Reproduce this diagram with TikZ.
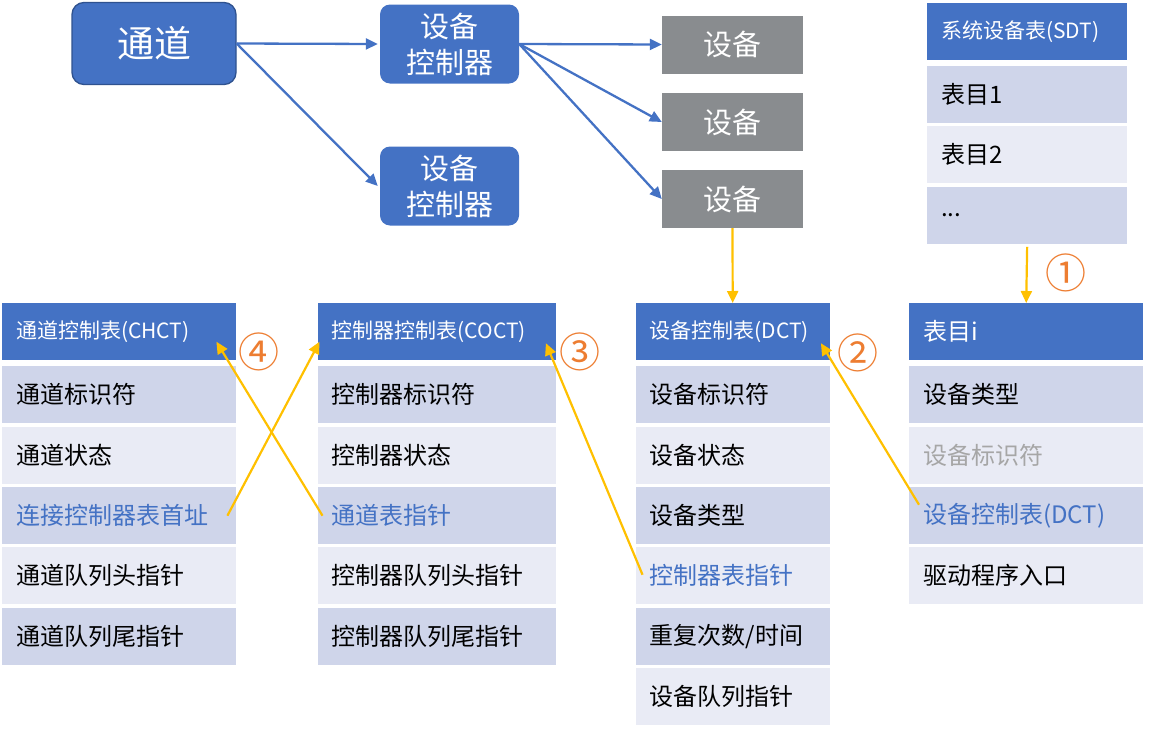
\documentclass[tikz,border=0pt]{standalone}
\usepackage{fontspec}
\setmainfont{Noto Sans CJK SC}
\usetikzlibrary{arrows.meta}
\definecolor{hdr}{HTML}{4472C4}
\definecolor{rowA}{HTML}{CFD5EA}
\definecolor{rowB}{HTML}{E9EBF5}
\definecolor{bord}{HTML}{2F528F}
\definecolor{devg}{HTML}{898C8F}
\definecolor{ylw}{HTML}{FFC000}
\definecolor{org}{HTML}{ED7D31}
\definecolor{gtxt}{HTML}{A6A6A6}
\begin{document}
\begin{tikzpicture}[x=1pt,y=-1pt,
  cell/.style={rectangle, anchor=north west, inner xsep=14pt, inner ysep=0pt,
    minimum height=57pt, align=left, text=black, font=\fontsize{24}{28}\selectfont},
  hcell/.style={cell, fill=hdr, text=white, font=\fontsize{21}{25}\selectfont},
  ra/.style={cell, fill=rowA},
  rb/.style={cell, fill=rowB},
  wA/.style={text width=206pt},
  wB/.style={text width=210pt},
  wC/.style={text width=166pt},
  wD/.style={text width=172pt},
  chan/.style={rectangle, rounded corners=12pt, fill=hdr, draw=bord, line width=1.3pt,
    minimum width=164pt, minimum height=82pt, text=white, font=\fontsize{37}{40}\selectfont},
  ctrl/.style={rectangle, rounded corners=10pt, fill=hdr, minimum width=139pt,
    minimum height=79pt, text=white, align=center, inner sep=0pt,
    font=\fontsize{29}{36}\selectfont},
  dev/.style={rectangle, fill=devg, minimum width=141pt, minimum height=58pt,
    text=white, font=\fontsize{29}{32}\selectfont},
  barrow/.style={draw=hdr, line width=2.3pt, -{Triangle[length=12pt,width=11pt]}},
  yarrow/.style={draw=ylw, line width=2.2pt, -{Triangle[length=12pt,width=11pt]}},
  circ/.style={text=org, inner sep=0pt, font=\fontsize{41}{43}\selectfont},
]
\useasboundingbox (0,0) rectangle (1149,731);

% top part
\node[chan] (ch) at (154,43.5) {通道};
\node[ctrl] (c1) at (449.5,44) {设备\\控制器};
\node[ctrl] (c2) at (449.5,186) {设备\\控制器};
\node[dev] (d1) at (732.5,44.5) {设备};
\node[dev] (d2) at (732.5,122) {设备};
\node[dev] (d3) at (732.5,199) {设备};

\draw[barrow] (ch.east) -- ([xshift=-2pt]c1.west);
\draw[barrow] (ch.east) -- ([xshift=-2pt]c2.west);
\draw[barrow] (c1.east) -- (d1.west);
\draw[barrow] (c1.east) -- (d2.west);
\draw[barrow] (c1.east) -- (d3.west);

% SDT
\node[hcell, wD] (sdt) at (927,3) {系统设备表(SDT)};
\node[ra, wD] (s1) at (927,66) {表目1};
\node[rb, wD] (s2) at (927,126) {表目2};
\node[ra, wD] (s3) at (927,186.5) {...};

% CHCT
\node[hcell, wA] (chct) at (2,303) {通道控制表(CHCT)};
\node[ra, wA] (h1) at (2,366) {通道标识符};
\node[rb, wA] (h2) at (2,426.5) {通道状态};
\node[ra, wA, text=hdr] (h3) at (2,487) {连接控制器表首址};
\node[rb, wA] (h4) at (2,547) {通道队列头指针};
\node[ra, wA] (h5) at (2,607.5) {通道队列尾指针};

% COCT
\node[hcell, wB] (coct) at (317.5,303) {控制器控制表(COCT)};
\node[ra, wB] (o1) at (317.5,366) {控制器标识符};
\node[rb, wB] (o2) at (317.5,426.5) {控制器状态};
\node[ra, wB, text=hdr] (o3) at (317.5,487) {通道表指针};
\node[rb, wB] (o4) at (317.5,547) {控制器队列头指针};
\node[ra, wB] (o5) at (317.5,607.5) {控制器队列尾指针};

% DCT
\node[hcell, wC] (dct) at (635.5,303) {设备控制表(DCT)};
\node[ra, wC] (t1) at (635.5,366) {设备标识符};
\node[rb, wC] (t2) at (635.5,426.5) {设备状态};
\node[ra, wC] (t3) at (635.5,487) {设备类型};
\node[rb, wC, text=hdr] (t4) at (635.5,547) {控制器表指针};
\node[ra, wC] (t5) at (635.5,607.5) {重复次数/时间};
\node[rb, wC] (t6) at (635.5,668) {设备队列指针};

% entry i
\node[hcell, wA, font=\fontsize{24}{28}\selectfont] (ei) at (909,303) {表目i};
\node[ra, wA] (e1) at (909,366) {设备类型};
\node[rb, wA, text=gtxt] (e2) at (909,426.5) {设备标识符};
\node[ra, wA, text=hdr] (e3) at (909,487) {设备控制表(DCT)};
\node[rb, wA] (e4) at (909,547) {驱动程序入口};

% yellow connectors
\draw[yarrow] (d3.south) -- (dct.north);
\draw[yarrow, shorten <=3pt] (s3.south) -- (ei.north);

\coordinate (p2s) at ([xshift=10pt,yshift=11pt]e3.west);
\coordinate (p2e) at ([xshift=-9pt,yshift=-11.5pt]dct.east);
\coordinate (p3s) at ([xshift=7pt,yshift=1pt]t4.west);
\coordinate (p3e) at ([xshift=-10pt,yshift=-11.5pt]coct.east);
\coordinate (p4as) at ([xshift=-9pt]h3.east);
\coordinate (p4ae) at ([xshift=2pt,yshift=-10pt]coct.west);
\coordinate (p4bs) at ([xshift=5pt]o3.west);
\coordinate (p4be) at ([xshift=-20pt,yshift=-10pt]chct.east);

\draw[yarrow] (p2s) -- (p2e);
\draw[yarrow] (p3s) -- (p3e);
\draw[yarrow] (p4as) -- (p4ae);
\draw[yarrow] (p4bs) -- (p4be);

% circled numbers
\node[circ] (n1) at (1066,273) {①};
\node[circ] (n2) at (858,353) {②};
\node[circ] (n3) at (580,352) {③};
\node[circ] (n4) at (259,352) {④};
\end{tikzpicture}
\end{document}
